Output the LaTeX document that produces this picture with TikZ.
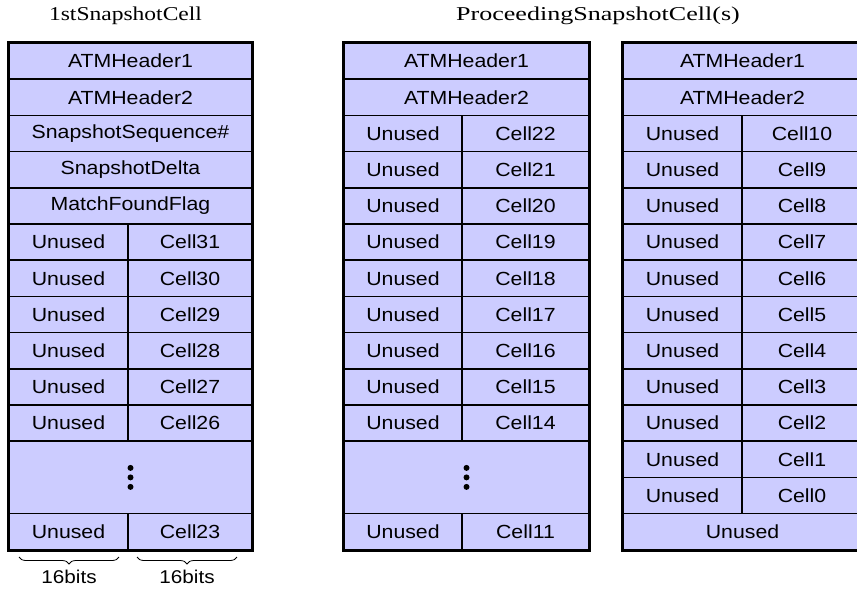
\documentclass[tikz,border=0pt]{standalone}
\usepackage{fontspec}
\setmainfont{Liberation Serif}
\newfontfamily\cellfont[FakeStretch=1.12]{Liberation Sans}
\newfontfamily\titlefontA[FakeStretch=1.2]{Liberation Serif}
\newfontfamily\titlefontB[FakeStretch=1.33]{Liberation Serif}
\usetikzlibrary{decorations.pathreplacing}
\definecolor{cellfill}{RGB}{204,204,255}

% row geometry shared by all three frames
\def\rowh{36.2}
\def\rowtop{43}
% \cellat{name}{left x}{right x}{first row}{row count}{text}
\newcommand\cellat[6]{%
  \pgfmathsetmacro\cellw{#3-#2}%
  \pgfmathsetmacro\cellh{#5*\rowh}%
  \pgfmathsetmacro\cellx{(#2+#3)/2}%
  \pgfmathsetmacro\celly{\rowtop+(#4+#5/2)*\rowh}%
  \node[cellbox, minimum width=\cellw pt, minimum height=\cellh pt] (#1) at (\cellx,\celly) {#6};%
}
% three stacked dots in the middle of a merged block
\newcommand\vdotsin[1]{%
  \foreach \d in {-9.5,0,9.5} \fill ([yshift=\d pt]#1.center) circle (3pt);%
}

\begin{document}
\begin{tikzpicture}[x=1pt,y=-1pt,
  cellbox/.style={draw, fill=cellfill, line width=1.5pt, inner sep=0pt,
    font=\cellfont\fontsize{19}{22}\selectfont},
  frame/.style={draw, line width=2pt},
  bitbrace/.style={decorate, decoration={brace, mirror, amplitude=7pt}, line width=0.8pt},
  bitlabel/.style={anchor=base, inner sep=0pt, font=\cellfont\fontsize{18.5}{21}\selectfont}]
\useasboundingbox (0,0) rectangle (857,592);
\clip (0,0) rectangle (857,592);

% titles
\node[anchor=base, inner sep=0pt, font=\titlefontA\fontsize{19.6}{22}\selectfont] (title1) at (125.5,20) {1stSnapshotCell};
\node[anchor=base, inner sep=0pt, font=\titlefontB\fontsize{19.6}{22}\selectfont] (title2) at (598,20) {ProceedingSnapshotCell(s)};

% ---- first snapshot cell: x 9 .. 252, split at 128
\cellat{a0}{9}{252}{0}{1}{ATMHeader1}
\cellat{a1}{9}{252}{1}{1}{ATMHeader2}
\cellat{a2}{9}{252}{2}{1}{SnapshotSequence\#}
\cellat{a3}{9}{252}{3}{1}{SnapshotDelta}
\cellat{a4}{9}{252}{4}{1}{MatchFoundFlag}
\foreach \c [count=\i from 5] in {31,30,29,28,27,26} {
  \cellat{a\i l}{9}{128}{\i}{1}{Unused}
  \cellat{a\i r}{128}{252}{\i}{1}{Cell\c}
}
\cellat{adots}{9}{252}{11}{2}{}
\vdotsin{adots}
\cellat{alastl}{9}{128}{13}{1}{Unused}
\cellat{alastr}{128}{252}{13}{1}{Cell23}
\draw[frame] (a0.north west) rectangle (alastr.south east);

% ---- proceeding cell, first: x 344 .. 589, split at 462
\cellat{b0}{344}{589}{0}{1}{ATMHeader1}
\cellat{b1}{344}{589}{1}{1}{ATMHeader2}
\foreach \c [count=\i from 2] in {22,21,20,19,18,17,16,15,14} {
  \cellat{b\i l}{344}{462}{\i}{1}{Unused}
  \cellat{b\i r}{462}{589}{\i}{1}{Cell\c}
}
\cellat{bdots}{344}{589}{11}{2}{}
\vdotsin{bdots}
\cellat{blastl}{344}{462}{13}{1}{Unused}
\cellat{blastr}{462}{589}{13}{1}{Cell11}
\draw[frame] (b0.north west) rectangle (blastr.south east);

% ---- proceeding cell, second: x 623 .. 862, split at 742
\cellat{c0}{623}{862}{0}{1}{ATMHeader1}
\cellat{c1}{623}{862}{1}{1}{ATMHeader2}
\foreach \c [count=\i from 2] in {10,9,8,7,6,5,4,3,2,1,0} {
  \cellat{c\i l}{623}{742}{\i}{1}{Unused}
  \cellat{c\i r}{742}{862}{\i}{1}{Cell\c}
}
\cellat{clast}{623}{862}{13}{1}{Unused}
\draw[frame] (c0.north west) rectangle (clast.south east);

% bit-width braces under the first frame
\coordinate (br1a) at (19,557);
\coordinate (br1b) at (119,557);
\coordinate (br2a) at (137,557);
\coordinate (br2b) at (237,557);
\draw[bitbrace] (br1a) -- (br1b);
\draw[bitbrace] (br2a) -- (br2b);
\node[bitlabel] (bits1) at (69,583) {16bits};
\node[bitlabel] (bits2) at (187,583) {16bits};
\end{tikzpicture}
\end{document}
